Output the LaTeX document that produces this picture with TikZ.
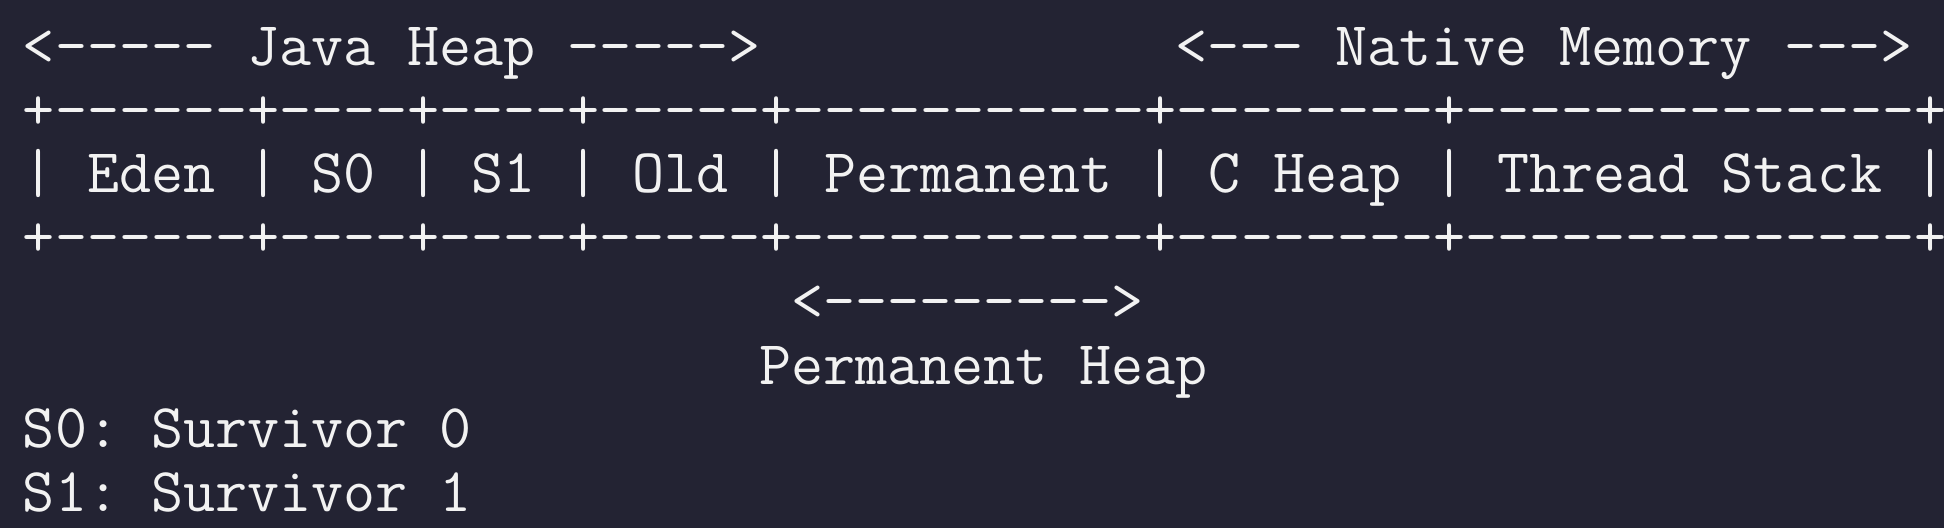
\documentclass[tikz,border=0pt]{standalone}
\definecolor{bg}{RGB}{35,35,51}
\definecolor{fg}{RGB}{242,242,242}
\newcommand\asciifont{\fontsize{31.12pt}{32pt}\ttfamily\selectfont\frenchspacing}
\tikzset{ascii/.style={anchor=base west, inner sep=0pt, outer sep=0pt, text=fg, font=\asciifont}}
\begin{document}
\begin{tikzpicture}[x=0.5pt,y=-0.5pt]
\fill[bg] (0,0) rectangle (1944,528);
\path[use as bounding box] (0,0) rectangle (1944,528);
\def\cw{32}
\def\lx{23}
\node[ascii] (javaheap) at (\lx,65.6) {<----- Java Heap ----->};
\node[ascii] (native) at ({\lx+36*\cw},65.6) {<--- Native Memory --->};
\node[ascii] (topborder) at (\lx,129.3) {+------+----+----+-----+-----------+--------+--------------+};
\node[ascii] (cells) at (\lx,193) {| Eden | S0 | S1 | Old | Permanent | C Heap | Thread Stack |};
\node[ascii] (bottomborder) at (\lx,256.7) {+------+----+----+-----+-----------+--------+--------------+};
\node[ascii] (permarrow) at ({\lx+24*\cw},320.4) {<--------->};
\node[ascii] (permlabel) at ({\lx+23*\cw},384.1) {Permanent Heap};
\node[ascii] (s0) at (\lx,447.8) {S0: Survivor 0};
\node[ascii] (s1) at (\lx,511.5) {S1: Survivor 1};
\end{tikzpicture}
\end{document}
